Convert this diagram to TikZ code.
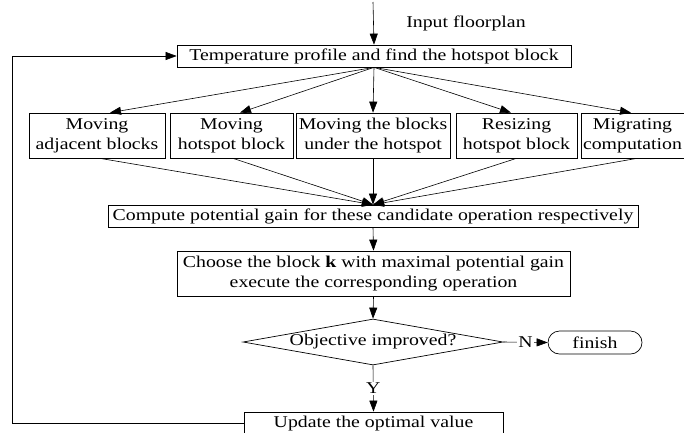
\documentclass[tikz,border=0pt]{standalone}
\usepackage{fontspec}
\setmainfont{Liberation Serif}[FakeStretch=1.2]
\usetikzlibrary{shapes.geometric,arrows.meta,calc}
\begin{document}
\begin{tikzpicture}[x=1pt,y=-1pt,
  every node/.style={font=\fontsize{16.5}{20}\selectfont},
  box/.style={draw,line width=0.7pt,inner sep=0pt,align=center},
  ln/.style={line width=0.6pt},
  arr/.style={ln,-{Triangle[length=11pt,width=8pt]}}]
\useasboundingbox (0,0) rectangle (684,432);
\node[box,minimum width=394pt,minimum height=22pt] (temp) at (374,56) {Temperature profile and find the hotspot block};
\coordinate (top) at (373,2);
\node (inp) at (466,23) {Input floorplan};
\node[box,minimum width=136pt,minimum height=45pt] (b1) at (97,135.5) {Moving\\adjacent blocks};
\node[box,minimum width=123pt,minimum height=45pt] (b2) at (231.5,135.5) {Moving\\hotspot block};
\node[box,minimum width=154pt,minimum height=45pt] (b3) at (373,135.5) {Moving the blocks\\under the hotspot};
\node[box,minimum width=121pt,minimum height=45pt] (b4) at (516.5,135.5) {Resizing\\hotspot block};
\node[box,minimum width=112pt,minimum height=45pt] (b5) at (637,135.5) {};
\node[align=center] (b5t) at (632.5,135.5) {Migrating\\computation};
\node[box,minimum width=530pt,minimum height=22pt] (comp) at (373,216) {Compute potential gain for these candidate operation respectively};
\node[box,minimum width=393pt,minimum height=45pt] (choose) at (373.5,273.5) {Choose the block \textbf{k} with maximal potential gain\\execute the corresponding operation};
\node[draw,diamond,line width=0.7pt,inner sep=0pt,minimum width=260pt,minimum height=46pt] (dec) at (373,342) {};
\node (dect) at (dec.center) {Objective improved?};
\node[box,rounded corners=11.5pt,minimum width=94pt,minimum height=23pt] (fin) at (595,342.5) {finish};
\node[box,minimum width=259pt,minimum height=28pt] (upd) at (373.5,426) {};
\node (updt) at (373.5,424) {Update the optimal value};
\coordinate (fb1) at (12,423);
\coordinate (fb2) at (12,56);
% arrows
\draw[arr] (top) -- (temp.north);
\draw[arr] (temp.south) -- ($(b1.north)+(13,0)$);
\draw[arr] (temp.south) -- ($(b2.north)+(8.5,0)$);
\draw[arr] (temp.south) -- (b3.north);
\draw[arr] (temp.south) -- ($(b4.north)+(-5.5,0)$);
\draw[arr] (temp.south) -- ($(b5.north)+(-6,0)$);
\draw[arr] ($(b1.south)+(3,0)$) -- (comp.north);
\draw[arr] ($(b2.south)+(1.5,0)$) -- (comp.north);
\draw[arr] (b3.south) -- (comp.north);
\draw[arr] (b4.south) -- (comp.north);
\draw[arr] (b5.south) -- (comp.north);
\draw[arr] (comp.south) -- (choose.north);
\draw[arr] (choose.south) -- (dec.north);
\draw[arr] (dec.east) -- node[fill=white,inner sep=1pt] {N} (fin.west);
\draw[arr] (dec.south) -- node[fill=white,inner sep=1pt,pos=0.5] {Y} (upd.north);
\draw[arr] (upd.west |- fb1) -- (fb1) -- (fb2) -- (temp.west);
\end{tikzpicture}
\end{document}
